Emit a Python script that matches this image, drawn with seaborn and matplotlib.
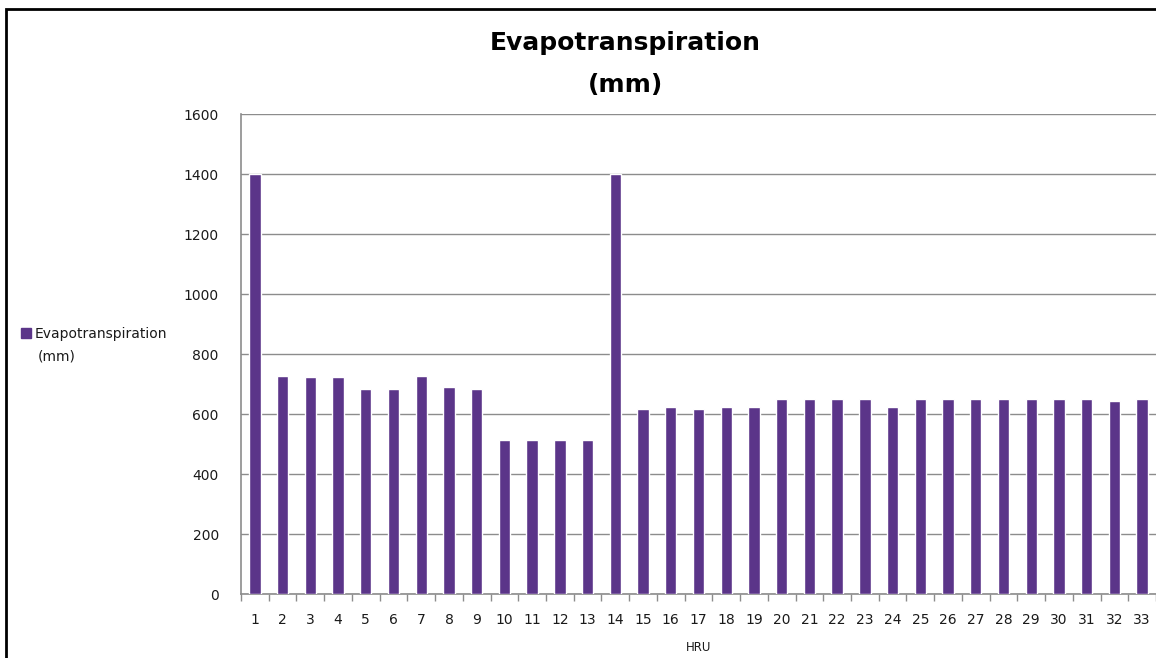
import matplotlib
matplotlib.use("Agg")
import matplotlib.pyplot as plt
import seaborn as sns
import pandas as pd
from matplotlib.patches import Rectangle
from matplotlib.lines import Line2D

# HRU ids and evapotranspiration values (mm)
hru = [str(i) for i in range(1, 34)]
et_mm = [1400, 728, 722, 722, 683, 683, 728, 689, 683,
         515, 515, 515, 515, 1400,
         617, 622, 617, 622, 622, 650, 650, 650, 650, 622,
         650, 650, 650, 650, 650, 650, 650, 645, 650]
y_ticks = [0, 200, 400, 600, 800, 1000, 1200, 1400, 1600]

bar_color = "#5B3589"
grid_color = "#8C8C8C"
text_color = "#1A1A1A"

sns.set_theme(style="white")
plt.rcParams['font.family'] = ['DejaVu Sans']

df = pd.DataFrame({"HRU": hru, "ET": et_mm})

fig = plt.figure(figsize=(11.56, 6.58), dpi=100)
ax = fig.add_axes([241 / 1156, 64 / 658, (1156 - 241) / 1156, 480 / 658])

sns.barplot(data=df, x="HRU", y="ET", color=bar_color, width=0.41,
            saturation=1, ax=ax, zorder=3)

ax.set_ylim(0, 1600)
ax.set_yticks(y_ticks)
ax.set_xlim(-0.5, 32.24)
ax.yaxis.grid(True, color=grid_color, linewidth=1.0, zorder=0)
ax.set_axisbelow(True)

# x ticks sit between categories, labels at the category centres
ax.set_xticks([i + 0.5 for i in range(-1, 33)], minor=True)
ax.tick_params(axis="x", which="major", length=0, pad=14, labelsize=10, labelcolor=text_color)
ax.tick_params(axis="x", which="minor", length=5, color=grid_color, width=1, direction="out")
ax.tick_params(axis="y", length=6, color=grid_color, width=1, direction="out",
               pad=10, labelsize=10, labelcolor=text_color)
ax.xaxis.set_tick_params(bottom=True, which="both")

for s in ["top", "right"]:
    ax.spines[s].set_visible(False)
for s in ["left", "bottom"]:
    ax.spines[s].set_color(grid_color)
    ax.spines[s].set_linewidth(1.2)

ax.set_ylabel("")
ax.set_xlabel("HRU", fontsize=8.5, color=text_color, labelpad=10)

fig.text(625 / 1156, 1 - 64 / 658, "Evapotranspiration\n(mm)", ha="center", va="center",
         fontsize=18, fontweight="bold", color="black", linespacing=1.9)

handle = Line2D([], [], marker="s", linestyle="none", markersize=7,
                markerfacecolor=bar_color, markeredgecolor=bar_color)
fig.legend([handle], ["Evapotranspiration"], loc="center left",
           bbox_to_anchor=(12 / 1156, 1 - 334 / 658), frameon=False,
           fontsize=10, handletextpad=0.0, handlelength=1.2, borderaxespad=0,
           labelcolor=text_color)
fig.text(38 / 1156, 1 - 357 / 658, "(mm)", ha="left", va="center",
         fontsize=10, color=text_color)

# outer chart frame, cut off at the right and bottom like the screenshot
fig.patches.append(Rectangle((6 / 1156, -0.1), 1.5, 1 - 9 / 658 + 0.1,
                             transform=fig.transFigure, fill=False,
                             edgecolor="black", linewidth=2, zorder=10))

fig.savefig("out.png", dpi=100)
